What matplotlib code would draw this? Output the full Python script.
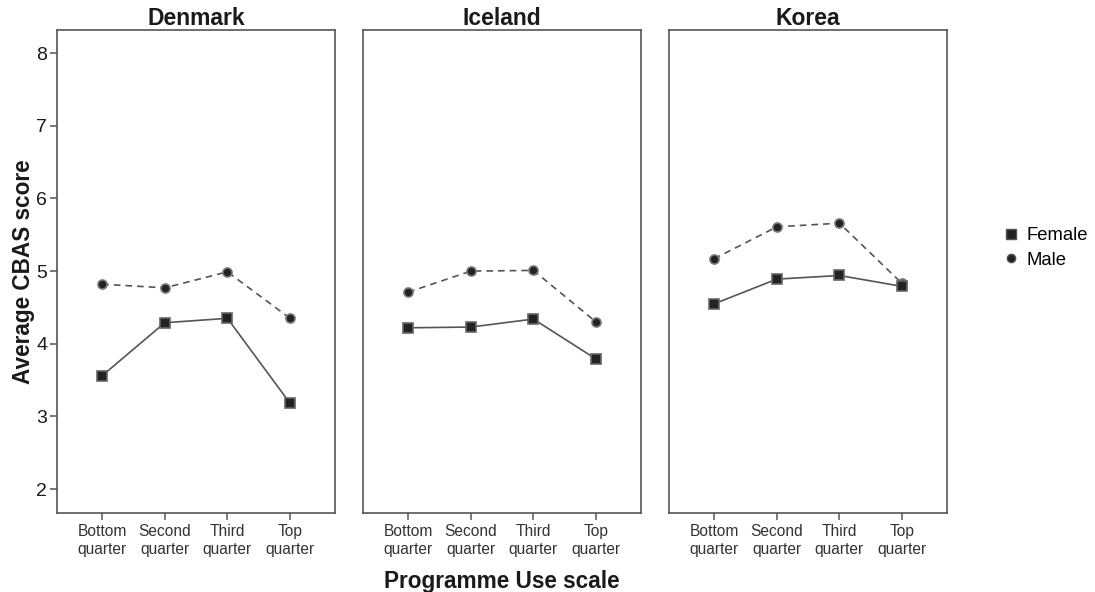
import matplotlib.pyplot as plt
from matplotlib.lines import Line2D

plt.rcParams['font.family'] = ['Liberation Sans', 'DejaVu Sans']

countries = ['Denmark', 'Iceland', 'Korea']
quarters = ['Bottom\nquarter', 'Second\nquarter', 'Third\nquarter', 'Top\nquarter']

female = {
    'Denmark': [3.56, 4.29, 4.35, 3.18],
    'Iceland': [4.22, 4.23, 4.34, 3.79],
    'Korea': [4.55, 4.89, 4.94, 4.79],
}
male = {
    'Denmark': [4.82, 4.77, 4.99, 4.35],
    'Iceland': [4.71, 5.00, 5.01, 4.30],
    'Korea': [5.17, 5.61, 5.66, 4.83],
}

fig = plt.figure(figsize=(10.95, 5.92), dpi=100)
lefts = [0.0521, 0.3315, 0.611]
for i, c in enumerate(countries):
    ax = fig.add_axes([lefts[i], 0.1334, 0.254, 0.816])
    x = range(len(quarters))
    ax.plot(x, male[c], color='#555555', linestyle=(0, (4, 3)), linewidth=1.2,
            marker='o', markersize=6.5, markerfacecolor='#222222',
            markeredgecolor='#777777', markeredgewidth=1.2, zorder=3)
    ax.plot(x, female[c], color='#555555', linestyle='-', linewidth=1.2,
            marker='s', markersize=7.5, markerfacecolor='#222222',
            markeredgecolor='#666666', markeredgewidth=1.2, zorder=3)
    ax.set_xlim(-0.72, 3.72)
    ax.set_ylim(1.67, 8.32)
    ax.set_xticks(list(x))
    ax.set_xticklabels(quarters, fontsize=11.2, color='#333333', linespacing=1.2)
    ax.tick_params(axis='x', length=5, color='#555555', width=1.1, pad=3)
    ax.set_title(c, fontsize=16.5, fontweight='bold', color='#1a1a1a', pad=3)
    for s in ax.spines.values():
        s.set_color('#555555')
        s.set_linewidth(1.2)
    if i == 0:
        ax.set_yticks([2, 3, 4, 5, 6, 7, 8])
        ax.tick_params(axis='y', length=5, color='#555555', width=1.1,
                       labelsize=14, labelcolor='#1a1a1a', pad=2)
        ax.set_ylabel('Average CBAS score', fontsize=16.3, fontweight='bold',
                      color='#1a1a1a', labelpad=1)
    else:
        ax.set_yticks([])

fig.text(0.4585, 0.018, 'Programme Use scale', ha='center', va='center',
         fontsize=16.3, fontweight='bold', color='#1a1a1a')

handles = [
    Line2D([], [], linestyle='none', marker='s', markersize=7,
           markerfacecolor='#222222', markeredgecolor='#555555'),
    Line2D([], [], linestyle='none', marker='o', markersize=6,
           markerfacecolor='#222222', markeredgecolor='#555555'),
]
fig.legend(handles, ['Female', 'Male'], loc='center left',
           bbox_to_anchor=(0.898, 0.581), frameon=False, fontsize=13.3,
           handletextpad=0.25, labelspacing=0.4, handlelength=1.2)

fig.savefig('out.png', dpi=100)
